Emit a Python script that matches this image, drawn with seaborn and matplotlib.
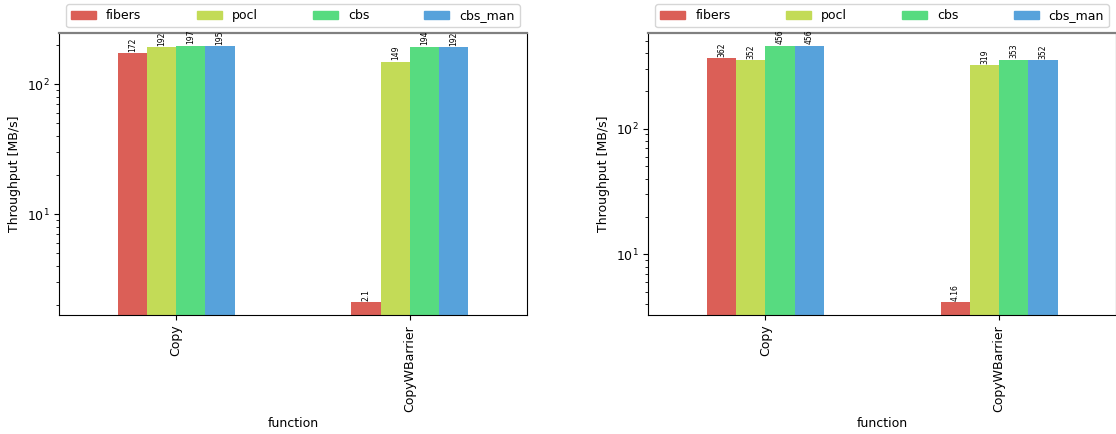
import numpy as np
import pandas as pd
import matplotlib
matplotlib.use('Agg')
import matplotlib.pyplot as plt
import seaborn as sns

# data
functions = ['Copy', 'CopyWBarrier']
variants = ['fibers', 'pocl', 'cbs', 'cbs_man']

left_values = {
    'fibers': [172, 2.1],
    'pocl': [192, 149],
    'cbs': [197, 194],
    'cbs_man': [195, 192],
}
right_values = {
    'fibers': [362, 4.16],
    'pocl': [352, 319],
    'cbs': [456, 353],
    'cbs_man': [456, 352],
}

colors = sns.hls_palette(16)[0::3][:4]

plt.rcParams['font.size'] = 9


def to_long(values):
    rows = []
    for v in variants:
        for f, val in zip(functions, values[v]):
            rows.append({'function': f, 'variant': v, 'throughput': val})
    return pd.DataFrame(rows)


fig, axes = plt.subplots(1, 2, figsize=(11.16, 4.34), dpi=100)
fig.subplots_adjust(left=0.053, right=1.0, top=0.924, bottom=0.274, wspace=0.26)

for ax, values in zip(axes, [left_values, right_values]):

    df = to_long(values)

    sns.barplot(
        data=df,
        x='function',
        y='throughput',
        hue='variant',
        hue_order=variants,
        order=functions,
        palette=colors,
        saturation=1,
        width=0.5,
        ax=ax,
        legend=False,
    )

    ax.set_yscale('log')

    lo = np.log10(df['throughput'].min())
    hi = np.log10(df['throughput'].max())
    pad = 0.05 * (hi - lo)
    ax.set_ylim(10 ** (lo - pad), 10 ** (hi + pad))
    ax.set_xlim(-0.5, 1.5)

    for cont in ax.containers:
        ax.bar_label(cont, fmt='%g', rotation=90, fontsize=5.5, padding=1)

    ax.set_xlabel('function')
    ax.set_ylabel('Throughput [MB/s]')
    ax.tick_params(axis='x', labelrotation=90)
    ax.spines['top'].set_color('#808080')
    ax.spines['top'].set_linewidth(1.6)

    handles = [plt.Rectangle((0, 0), 1, 1, color=c) for c in colors]
    ax.legend(
        handles,
        variants,
        ncol=4,
        loc='lower left',
        bbox_to_anchor=(0.015, 1.02, 0.97, 0.1),
        mode='expand',
        borderaxespad=0,
        frameon=True,
    )

fig.savefig('out.png', dpi=100)
